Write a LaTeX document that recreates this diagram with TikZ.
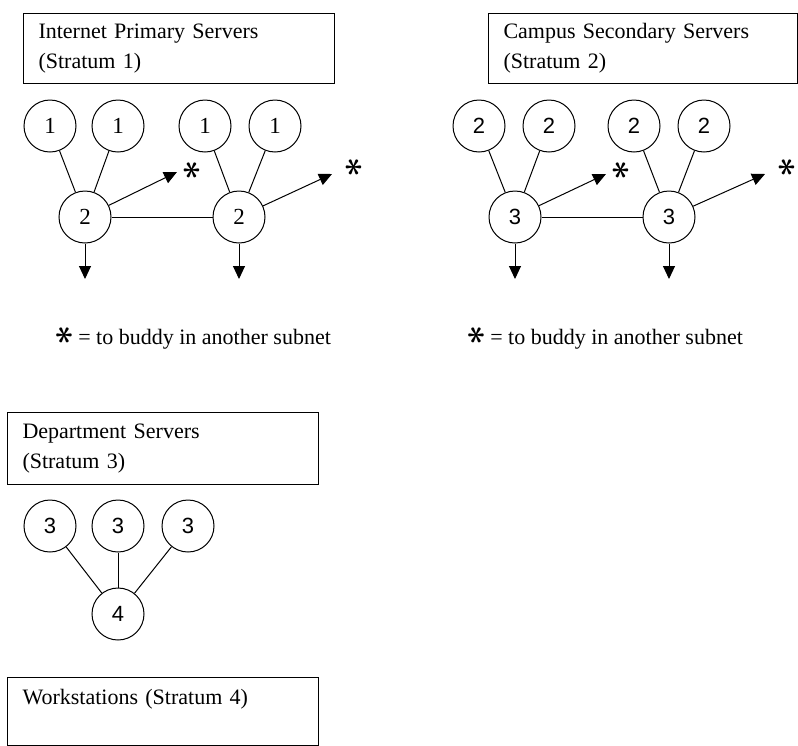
\documentclass[tikz,border=0pt]{standalone}
\usepackage{fontspec}
\setmainfont{Liberation Serif}
\setsansfont{Liberation Sans}
\usetikzlibrary{arrows.meta}
\newcommand{\bstar}{\raisebox{0.05em}{\scalebox{1.7}{\rotatebox[origin=c]{90}{\boldmath$\ast$}}}}
\begin{document}
\begin{tikzpicture}[x=1pt,y=-1pt,
  srv/.style={circle,draw,line width=1pt,minimum size=52pt,inner sep=0pt,font=\fontsize{23}{24}\selectfont},
  srvs/.style={srv,font=\sffamily\fontsize{22}{24}\selectfont},
  titlebox/.style={draw,line width=1pt,anchor=north west,align=left,minimum width=311pt,text width=281pt,inner xsep=15pt,inner ysep=0pt,font=\fontsize{22}{30}\selectfont},
  link/.style={line width=1pt},
  arr/.style={line width=1pt,-{Triangle[length=13pt,width=12pt]}},
  starlbl/.style={font=\fontsize{22}{22}\selectfont,inner sep=0pt},
  legend/.style={anchor=west,font=\fontsize{22}{24}\selectfont,inner sep=0pt}
]
\useasboundingbox (0,0) rectangle (798,745);

% ---------- Stratum 1 ----------
\node[titlebox,minimum height=70pt] (t1) at (23,13) {Internet Primary Servers\\(Stratum 1)};
\node[srv] (a1) at (50,126) {1};
\node[srv] (a2) at (118,126) {1};
\node[srv] (a3) at (205,126) {1};
\node[srv] (a4) at (275,126) {1};
\node[srv] (b1) at (85,217) {2};
\node[srv] (b2) at (239,217) {2};
\draw[link] (a1) -- (b1);
\draw[link] (a2) -- (b1);
\draw[link] (a3) -- (b2);
\draw[link] (a4) -- (b2);
\draw[link] (b1) -- (b2);
\coordinate (p1) at (177,172);
\coordinate (p2) at (332,174);
\draw[arr] (b1) -- (p1);
\draw[arr] (b2) -- (p2);
\node[starlbl] (s1) at (192,170) {\bstar};
\node[starlbl] (s2) at (354,167) {\bstar};
\coordinate (d1) at (85,279);
\coordinate (d2) at (239,279);
\draw[arr] (b1) -- (d1);
\draw[arr] (b2) -- (d2);
\node[legend] (l1) at (56,337) {\bstar{} = to buddy in another subnet};

% ---------- Stratum 2 ----------
\node[titlebox,minimum height=70pt,minimum width=309pt,text width=279pt] (t2) at (488,13) {Campus Secondary Servers\\(Stratum 2)};
\node[srvs] (c1) at (479,126) {2};
\node[srvs] (c2) at (549,126) {2};
\node[srvs] (c3) at (634,126) {2};
\node[srvs] (c4) at (704,126) {2};
\node[srvs] (e1) at (515,217) {3};
\node[srvs] (e2) at (669,217) {3};
\draw[link] (c1) -- (e1);
\draw[link] (c2) -- (e1);
\draw[link] (c3) -- (e2);
\draw[link] (c4) -- (e2);
\draw[link] (e1) -- (e2);
\coordinate (q1) at (606,174);
\coordinate (q2) at (765,174);
\draw[arr] (e1) -- (q1);
\draw[arr] (e2) -- (q2);
\node[starlbl] (s3) at (621,170) {\bstar};
\node[starlbl] (s4) at (787,167) {\bstar};
\coordinate (d3) at (515,279);
\coordinate (d4) at (669,279);
\draw[arr] (e1) -- (d3);
\draw[arr] (e2) -- (d4);
\node[legend] (l2) at (468,337) {\bstar{} = to buddy in another subnet};

% ---------- Stratum 3 ----------
\node[titlebox,minimum height=72pt] (t3) at (7,412) {Department Servers\\(Stratum 3)};
\node[srvs] (g1) at (50,526) {3};
\node[srvs] (g2) at (118,526) {3};
\node[srvs] (g3) at (188,526) {3};
\node[srvs] (h1) at (118,614) {4};
\draw[link] (g1) -- (h1);
\draw[link] (g2) -- (h1);
\draw[link] (g3) -- (h1);

% ---------- Stratum 4 ----------
\node[titlebox,minimum height=68pt] (t4) at (7,677) {Workstations (Stratum 4)\\\mbox{}};
\end{tikzpicture}
\end{document}
